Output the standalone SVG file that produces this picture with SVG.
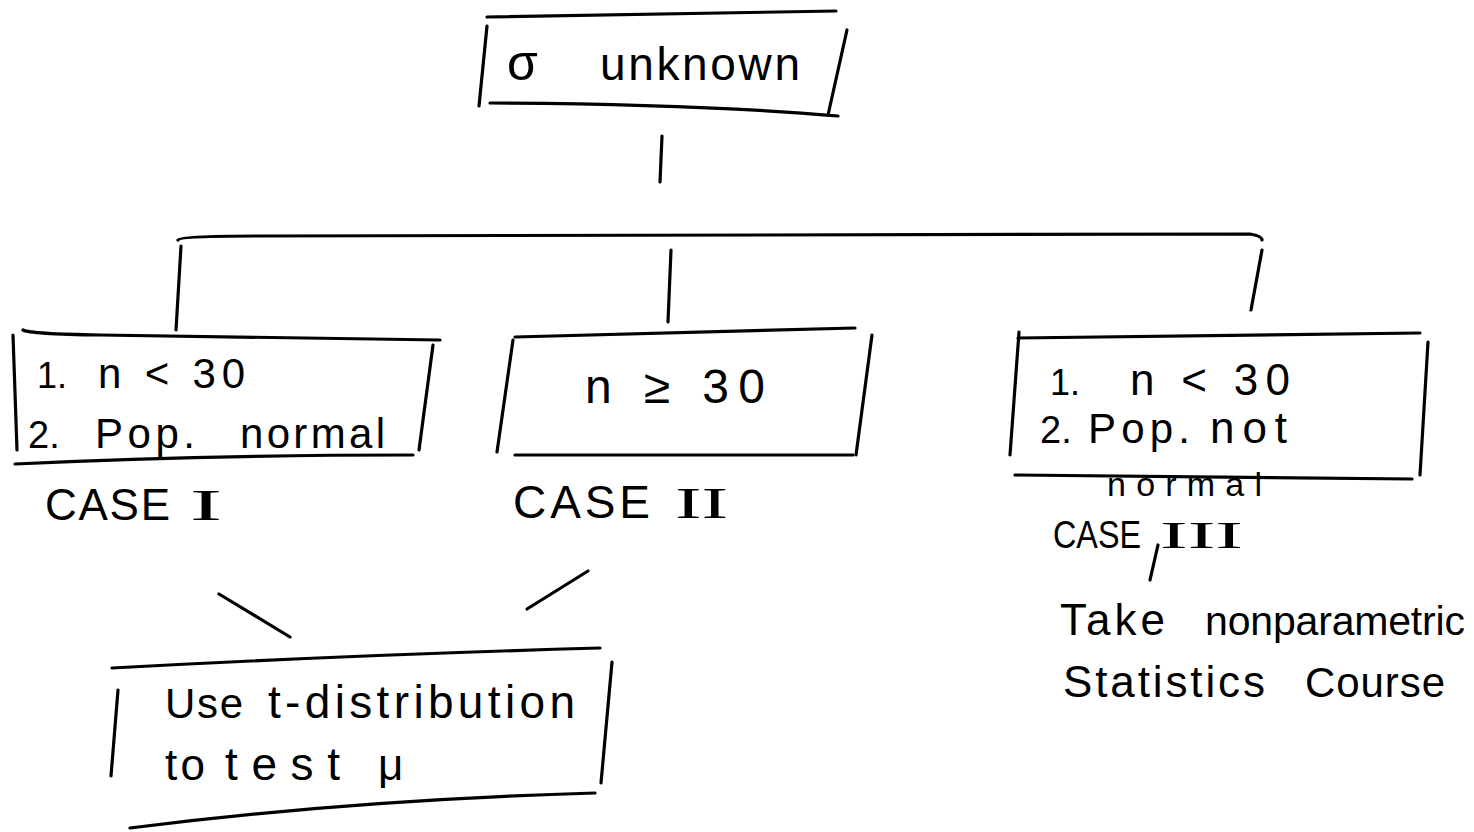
<svg xmlns="http://www.w3.org/2000/svg" width="1474" height="832" viewBox="0 0 1474 832">
<style>
.s{fill:none;stroke:#000;stroke-width:3.2;stroke-linecap:round;stroke-linejoin:round}
text{font-family:"Liberation Sans",Arial,sans-serif;fill:#000}
.r{font-family:"Liberation Serif","Times New Roman",serif}
</style>
<rect width="1474" height="832" fill="#fff"/>
<g id="connectors">
<path class="s" d="M662,136 L660,182"/>
<path class="s" d="M178,240 Q180,236 260,236 L1250,234 Q1262,236 1262,240"/>
<path class="s" d="M181,246 L176,330"/>
<path class="s" d="M671,250 L668,322"/>
<path class="s" d="M1262,250 L1251,310"/>
<path class="s" d="M219,594 L290,637"/>
<path class="s" d="M588,571 L527,609"/>
<path class="s" d="M1158,545 L1150,580"/>
</g>
<g id="root">
<path class="s" d="M487,17 L836,11"/>
<path class="s" d="M487,26 L479,106"/>
<path class="s" d="M847,30 L828,115"/>
<path class="s" d="M490,103 Q700,104 838,116"/>
<text x="507" y="80" font-size="50">σ</text>
<text x="600" y="80" font-size="46" textLength="200" lengthAdjust="spacing">unknown</text>
</g>
<g id="case1">
<path class="s" d="M23,330 Q30,334 100,335 L440,340"/>
<path class="s" d="M13,335 L17,450"/>
<path class="s" d="M433,345 L419,450"/>
<path class="s" d="M15,464 Q200,455 413,455"/>
<text x="37" y="388" font-size="36">1.</text>
<text x="98" y="388" font-size="42" textLength="147" lengthAdjust="spacing">n &lt; 30</text>
<text x="28" y="448" font-size="38">2.</text>
<text x="95" y="448" font-size="42" textLength="100" lengthAdjust="spacing">Pop.</text>
<text x="240" y="448" font-size="42" textLength="145" lengthAdjust="spacing">normal</text>
<text x="45" y="520" font-size="44" textLength="125" lengthAdjust="spacing">CASE</text>
<text class="r" x="190" y="520" font-size="44" textLength="32" lengthAdjust="spacingAndGlyphs">I</text>
</g>
<g id="case2">
<path class="s" d="M515,337 L855,328"/>
<path class="s" d="M513,340 L497,452"/>
<path class="s" d="M872,335 L856,455"/>
<path class="s" d="M515,455 L853,455"/>
<text x="585" y="403" font-size="48" textLength="180" lengthAdjust="spacing">n ≥ 30</text>
<text x="513" y="518" font-size="46" textLength="137" lengthAdjust="spacing">CASE</text>
<text class="r" x="675" y="518" font-size="44" textLength="53" lengthAdjust="spacingAndGlyphs">II</text>
</g>
<g id="case3">
<path class="s" d="M1018,338 L1420,333"/>
<path class="s" d="M1019,332 L1010,455"/>
<path class="s" d="M1428,342 L1420,475"/>
<path class="s" d="M1015,475 L1412,479"/>
<text x="1050" y="395" font-size="36">1.</text>
<text x="1130" y="395" font-size="44" textLength="160" lengthAdjust="spacing">n &lt; 30</text>
<text x="1040" y="443" font-size="38">2.</text>
<text x="1088" y="443" font-size="42" textLength="102" lengthAdjust="spacing">Pop.</text>
<text x="1210" y="443" font-size="44" textLength="77" lengthAdjust="spacing">not</text>
<text x="1107" y="496" font-size="34" textLength="155" lengthAdjust="spacing">normal</text>
<text x="1053" y="548" font-size="38" textLength="88" lengthAdjust="spacingAndGlyphs">CASE</text>
<text class="r" x="1160" y="548" font-size="38" textLength="83" lengthAdjust="spacingAndGlyphs">III</text>
</g>
<g id="nonparam">
<text x="1060" y="635" font-size="44" textLength="105" lengthAdjust="spacing">Take</text>
<text x="1205" y="635" font-size="41" textLength="260" lengthAdjust="spacing">nonparametric</text>
<text x="1063" y="697" font-size="44" textLength="202" lengthAdjust="spacing">Statistics</text>
<text x="1305" y="697" font-size="42" textLength="140" lengthAdjust="spacing">Course</text>
</g>
<g id="tdist">
<path class="s" d="M112,668 Q350,655 600,648"/>
<path class="s" d="M118,690 L111,776"/>
<path class="s" d="M612,662 L601,783"/>
<path class="s" d="M130,828 Q350,800 595,793"/>
<text x="165" y="718" font-size="42" textLength="78" lengthAdjust="spacing">Use</text>
<text x="268" y="718" font-size="46" textLength="307" lengthAdjust="spacing">t-distribution</text>
<text x="165" y="780" font-size="44" textLength="40" lengthAdjust="spacing">to</text>
<text x="225" y="780" font-size="46" textLength="115" lengthAdjust="spacing">test</text>
<text x="378" y="780" font-size="44">μ</text>
</g>
</svg>
